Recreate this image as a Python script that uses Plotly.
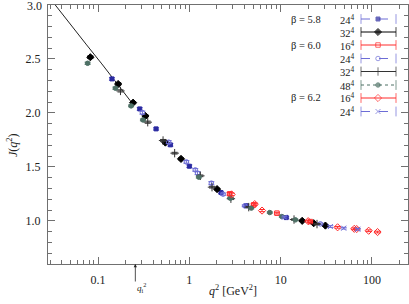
import math
import plotly.graph_objects as go

# ---------------- data ----------------
curve_q2 = [0.034, 0.05, 0.075, 0.11, 0.16, 0.235]
curve_J = [3.0, 2.815, 2.63, 2.454, 2.278, 2.093]

s1_q2 = [0.142, 0.286, 0.432, 0.62, 1.0, 2.22, 4.2, 11.5]
s1_J = [2.315, 2.037, 1.852, 1.704, 1.506, 1.262, 1.14, 1.03]
s1_err = [0.012, 0.012, 0.01, 0.012, 0.012, 0.01, 0.008, 0.008]

s2_q2 = [0.0823, 0.166, 0.242, 0.33, 0.546, 0.81, 2.01, 17.2, 23.0, 30.9]
s2_J = [2.516, 2.268, 2.095, 1.972, 1.725, 1.574, 1.294, 1.0, 0.978, 0.956]
s2_err = [0.012, 0.012, 0.01, 0.01, 0.01, 0.008, 0.008, 0.006, 0.006, 0.006]

s3_q2 = [2.76, 5.06, 9.1, 21.1]
s3_J = [1.25, 1.148, 1.071, 0.993]
s3_err = [0.012, 0.01, 0.008, 0.008]

s4_q2 = [0.306, 0.594, 0.927, 1.16, 1.23, 1.74, 2.34, 4.04, 27.2]
s4_J = [2.003, 1.729, 1.546, 1.472, 1.442, 1.349, 1.247, 1.139, 0.972]
s4_err = [0.014, 0.014, 0.012, 0.012, 0.014, 0.014, 0.01, 0.008, 0.008]

s5_q2 = [0.176, 0.35, 0.515, 0.69, 1.32, 1.77, 2.85, 4.47, 14.0, 25.0]
s5_J = [2.204, 1.914, 1.744, 1.627, 1.417, 1.312, 1.205, 1.127, 1.012, 0.97]
s5_err = [0.01, 0.01, 0.01, 0.008, 0.008, 0.008, 0.008, 0.006, 0.006, 0.006]

s6_q2 = [0.0769, 0.155, 0.23, 0.31, 1.27, 2.81, 4.77, 7.6, 10.3, 14.5]
s6_J = [2.46, 2.229, 2.065, 1.935, 1.405, 1.21, 1.118, 1.077, 1.04, 1.009]
s6_err = [0.01, 0.01, 0.008, 0.008, 0.008, 0.006, 0.006, 0.006, 0.006, 0.006]

s7_q2 = [2.9, 5.2, 6.25, 20.0, 42.0, 64.0, 68.0, 92.0, 115.0]
s7_J = [1.245, 1.155, 1.095, 0.997, 0.94, 0.926, 0.924, 0.908, 0.896]
s7_err = [0.012, 0.01, 0.01, 0.008, 0.008, 0.008, 0.008, 0.008, 0.008]

s8_q2 = [11.0, 35.0, 49.0, 70.0]
s8_J = [1.034, 0.947, 0.932, 0.922]
s8_err = [0.008, 0.008, 0.008, 0.008]

beta_labels = ["β = 5.8", "", "β = 6.0", "", "", "", "β = 6.2", ""]
size_labels = ["24<sup>4</sup>", "32<sup>4</sup>", "16<sup>4</sup>", "24<sup>4</sup>",
               "32<sup>4</sup>", "48<sup>4</sup>", "16<sup>4</sup>", "24<sup>4</sup>"]

x_tick_vals = [0.1, 1, 10, 100]
x_tick_text = ["0.1", "1", "10", "100"]
y_tick_vals = [1.0, 1.5, 2.0, 2.5, 3.0]
y_tick_text = ["1.0", "1.5", "2.0", "2.5", ""]
y_top_label = "3.0"
q2_initial = 0.256

# ---------------- styles ----------------
BLUE = "#2a2aa0"
BLUE_L = "#6d6dd6"
BLACK = "#000000"
RED = "#ff2a2a"
GRAYK = "#333333"
GREEN = "#4d7065"
AX = "#707070"
FONT = "Liberation Serif"

series = [
    (s1_q2, s1_J, s1_err, "square", BLUE, BLUE_L, "dash", 4),
    (s2_q2, s2_J, s2_err, "diamond", BLACK, BLACK, "solid", 5.5),
    (s3_q2, s3_J, s3_err, "square-open", RED, RED, "solid", 4.5),
    (s4_q2, s4_J, s4_err, "circle-open", BLUE_L, BLUE_L, "dash", 4.5),
    (s5_q2, s5_J, s5_err, "cross-thin-open", GRAYK, GRAYK, "solid", 6),
    (s6_q2, s6_J, s6_err, "circle", GREEN, GREEN, "dot", 4.5),
    (s7_q2, s7_J, s7_err, "diamond-open", RED, RED, "solid", 5.5),
    (s8_q2, s8_J, s8_err, "x-thin-open", BLUE_L, BLUE_L, "dash", 5),
]

fig = go.Figure()

fig.add_trace(go.Scatter(x=curve_q2, y=curve_J, mode="lines",
                         line=dict(color="#222222", width=1), showlegend=False))

for q2, J, err, sym, col, ecol, dash, ms in series:
    fig.add_trace(go.Scatter(
        x=q2, y=J, mode="markers", showlegend=False,
        marker=dict(symbol=sym, size=ms, color=col, line=dict(color=col, width=1)),
        error_y=dict(type="data", array=err, width=3, thickness=1, color=ecol),
    ))

# ---------------- legend (drawn on an overlay axis) ----------------
L, R, T, B = 48, 1, 5, 40
W, H = 409, 304
pw, ph = W - L - R, H - T - B
row_px = [19, 32, 45, 58.5, 71.5, 85, 98, 111.5]
x_l, x_m, x_r = (361 - L) / pw, (378 - L) / pw, (396 - L) / pw
for i, (q2, J, err, sym, col, ecol, dash, ms) in enumerate(series):
    yy = (H - B - row_px[i]) / ph
    lc = ecol
    fig.add_trace(go.Scatter(
        x=[x_l, x_m, x_r], y=[yy, yy, yy], mode="lines+markers", showlegend=False,
        xaxis="x2", yaxis="y2",
        line=dict(color=lc, width=1, dash=dash),
        marker=dict(symbol=["line-ns", sym, "line-ns"], size=[7, ms, 7],
                    color=[lc, col, lc], line=dict(color=[lc, col, lc], width=1)),
        hoverinfo="skip",
    ))
    if beta_labels[i]:
        fig.add_annotation(x=(323 - L) / pw, y=yy, xref="paper", yref="paper",
                           text=beta_labels[i], showarrow=False, xanchor="right",
                           yanchor="middle", font=dict(family=FONT, size=10.5, color="#222"))
    fig.add_annotation(x=(338 - L) / pw, y=yy, xref="paper", yref="paper",
                       text=size_labels[i], showarrow=False, xanchor="left",
                       yanchor="middle", font=dict(family=FONT, size=10.5, color="#222"))

# top y tick label (kept inside the page)
fig.add_annotation(x=0, y=3.0, xref="paper", yref="y", text=y_top_label,
                   showarrow=False, xanchor="right", yanchor="middle", xshift=-4, yshift=-1,
                   font=dict(family=FONT, size=12, color="#222"))

# q_i^2 arrow
fig.add_annotation(x=math.log10(q2_initial), y=0, xref="x", yref="paper",
                   ax=0, ay=26, text=" ", showarrow=True, arrowhead=2,
                   arrowsize=0.8, arrowwidth=0.8, arrowcolor="#222", standoff=0)
fig.add_annotation(x=math.log10(q2_initial), y=-0.09, xref="x", yref="paper",
                   text="<i>q</i><sub>i</sub><sup>2</sup>", showarrow=False,
                   xanchor="left", yanchor="middle",
                   font=dict(family=FONT, size=9, color="#222"))

# axis titles as annotations
fig.add_annotation(x=(233 - L) / pw, y=(H - B - 290) / ph, xref="paper", yref="paper",
                   text="<i>q</i><sup>2</sup> [GeV<sup>2</sup>]", showarrow=False,
                   xanchor="center", yanchor="middle",
                   font=dict(family=FONT, size=12, color="#222"))
fig.add_annotation(x=(12 - L) / pw, y=(H - B - 145) / ph, xref="paper", yref="paper",
                   text="<i>J</i>(<i>q</i><sup>2</sup>)", showarrow=False, textangle=-90,
                   xanchor="center", yanchor="middle",
                   font=dict(family=FONT, size=12, color="#222"))

minor_x = [m * 10 ** e for e in range(-2, 3) for m in range(2, 10)]

fig.update_layout(
    width=W, height=H,
    margin=dict(l=L, r=R, t=T, b=B, autoexpand=False),
    paper_bgcolor="white", plot_bgcolor="white",
    font=dict(family=FONT, size=12, color="#222"),
    xaxis=dict(type="log", range=[math.log10(0.0283), math.log10(248)],
               tickvals=x_tick_vals, ticktext=x_tick_text, automargin=False,
               ticks="inside", ticklen=7, tickwidth=1, tickcolor=AX,
               showline=True, linecolor=AX, linewidth=1.3, mirror="ticks",
               showgrid=False, zeroline=False, ticklabelstandoff=4,
               minor=dict(tickvals=minor_x, ticks="inside", ticklen=3.5,
                          tickcolor=AX, tickwidth=1, showgrid=False)),
    yaxis=dict(range=[0.6, 3.0], tickvals=y_tick_vals, ticktext=y_tick_text,
               automargin=False,
               ticks="inside", ticklen=7, tickwidth=1, tickcolor=AX,
               showline=True, linecolor=AX, linewidth=1.3, mirror="ticks",
               showgrid=False, zeroline=False, ticklabelstandoff=4,
               minor=dict(dtick=0.1, ticks="inside", ticklen=3.5,
                          tickcolor=AX, tickwidth=1, showgrid=False)),
    xaxis2=dict(range=[0, 1], overlaying="x", visible=False, fixedrange=True),
    yaxis2=dict(range=[0, 1], overlaying="y", visible=False, fixedrange=True),
)

fig.write_html("out.html", config={"displayModeBar": False},
               post_script="document.body.style.margin='0';document.body.style.overflow='hidden';")
